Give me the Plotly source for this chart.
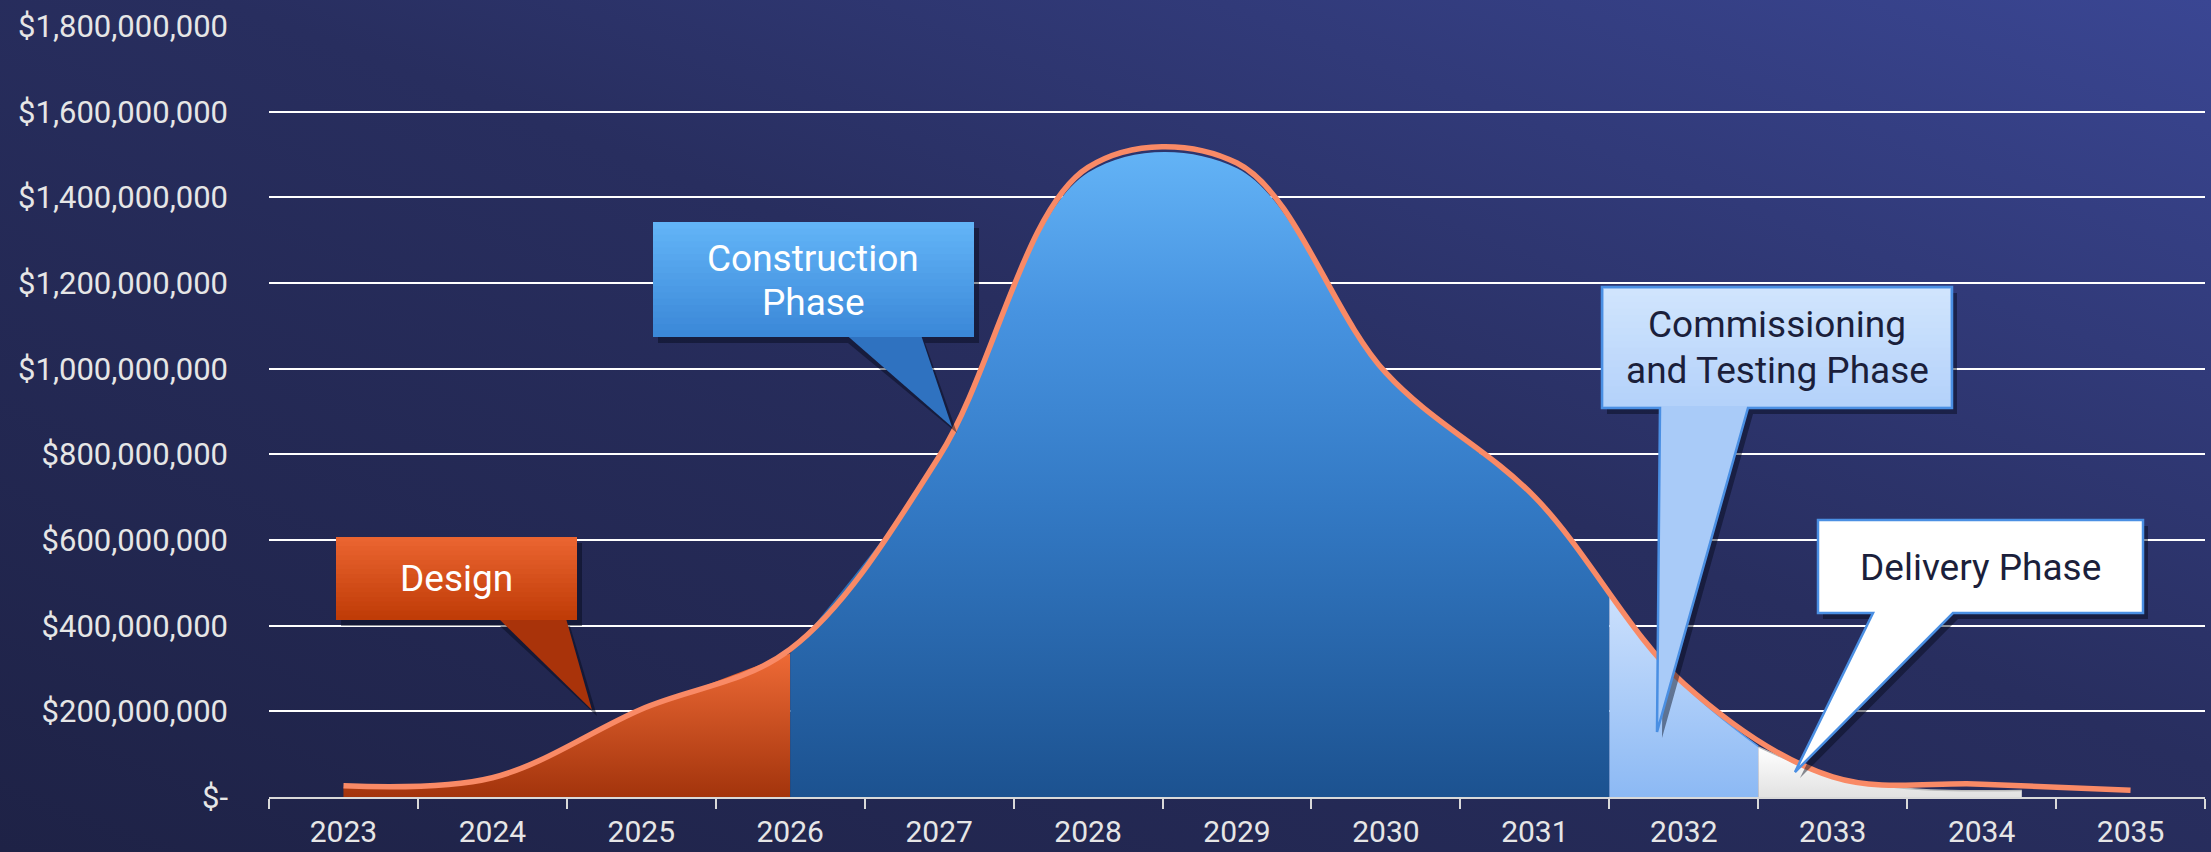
import base64
import plotly.graph_objects as go

# ---------------- data ----------------
YEARS = list(range(2023, 2036))
SPEND = [26e6, 45e6, 205e6, 345e6, 795e6, 1470e6, 1480e6, 990e6, 700e6, 265e6, 47e6, 30e6, 16e6]

DESIGN_X = [2023, 2024, 2025, 2026]
DESIGN_Y = [22e6, 42e6, 200e6, 335e6]

CONSTR_X = [2026, 2027, 2028, 2029, 2030, 2031, 2031.5]
CONSTR_Y = [335e6, 788e6, 1458e6, 1468e6, 985e6, 695e6, 478e6]

COMM_X = [2031.5, 2032, 2032.5]
COMM_Y = [478e6, 262e6, 118e6]

DELIV_X = [2032.5, 2033, 2033.5, 2034.27]
DELIV_Y = [117e6, 48e6, 20e6, 15e6]

Y_TICKS = [i * 2e8 for i in range(10)]
Y_LABELS = ["$-" if v == 0 else "${:,.0f}".format(v) for v in Y_TICKS]
X_LABELS = [str(y) for y in YEARS]

# ---------------- geometry helpers (pixel -> paper) ----------------
W, H = 2211, 852
L, R, T, B = 269, 6, 26, 55
PW, PH = W - L - R, H - T - B
BOTTOM = H - B


def P(px, py):
    return (px - L) / PW, (BOTTOM - py) / PH


def path(points):
    s = []
    for i, (px, py) in enumerate(points):
        x, y = P(px, py)
        s.append(("M" if i == 0 else "L") + f"{x:.5f},{y:.5f}")
    return " ".join(s) + " Z"


def mix(c1, c2, t):
    a = [int(c1[i:i + 2], 16) for i in (1, 3, 5)]
    b = [int(c2[i:i + 2], 16) for i in (1, 3, 5)]
    return "rgb(%d,%d,%d)" % tuple(round(a[k] + (b[k] - a[k]) * t) for k in range(3))


def grad_rect(x0, y0, x1, y1, ctop, cbot, n=18):
    out = []
    h = (y1 - y0) / n
    for i in range(n):
        ya = y0 + i * h
        yb = ya + h + 0.8 if i < n - 1 else y1
        xa, yA = P(x0, ya)
        xb, yB = P(x1, yb)
        out.append(dict(type="rect", xref="paper", yref="paper", x0=xa, x1=xb, y0=yB, y1=yA,
                        fillcolor=mix(ctop, cbot, i / (n - 1)), line=dict(width=0), layer="above"))
    return out


def outline(box, tail):
    x0, y0, x1, y1 = box
    (tl, tr, tip) = tail
    return [(x0, y0), (x1, y0), (x1, y1), (tr, y1), tip, (tl, y1), (x0, y1)]


def shadow(pts, dx=5, dy=6):
    return dict(type="path", xref="paper", yref="paper",
                path=path([(x + dx, y + dy) for x, y in pts]),
                fillcolor="rgba(5,8,25,0.45)", line=dict(width=0), layer="above")


shapes = []
annotations = []
FONT = "Roboto, 'Open Sans', Arial, sans-serif"

# Design callout
d_box = (336, 537, 577, 620)
d_tail = (495, 565, (592, 710))
d_pts = outline(d_box, d_tail)
shapes.append(shadow(d_pts))
shapes.append(dict(type="path", xref="paper", yref="paper",
                   path=path([(d_tail[0], 615), d_tail[2], (d_tail[1], 615)]),
                   fillcolor="#a9330a", line=dict(width=0), layer="above"))
shapes += grad_rect(*d_box, "#ea6430", "#c03c07")

# Construction callout
c_box = (653, 222, 974, 337)
c_tail = (843, 920, (952, 427))
c_pts = outline(c_box, c_tail)
shapes.append(shadow(c_pts))
shapes.append(dict(type="path", xref="paper", yref="paper",
                   path=path([(c_tail[0], 332), c_tail[2], (c_tail[1], 332)]),
                   fillcolor="#2f72c0", line=dict(width=0), layer="above"))
shapes += grad_rect(*c_box, "#62b4f7", "#3b88d8")

# Commissioning callout
m_box = (1602, 287, 1952, 408)
m_tail = (1660, 1748, (1657, 732))
m_pts = outline(m_box, m_tail)
shapes.append(shadow(m_pts))
shapes.append(dict(type="path", xref="paper", yref="paper", path=path(m_pts),
                   fillcolor="#a9cbf8", line=dict(color="#4a8fe3", width=2.5), layer="above"))
shapes += grad_rect(m_box[0] + 2, m_box[1] + 2, m_box[2] - 2, m_box[3] - 2, "#d0e4fd", "#b4d2fa")

# Delivery callout
v_box = (1818, 520, 2143, 613)
v_tail = (1873, 1953, (1795, 772))
v_pts = outline(v_box, v_tail)
shapes.append(shadow(v_pts))
shapes.append(dict(type="path", xref="paper", yref="paper", path=path(v_pts),
                   fillcolor="#ffffff", line=dict(color="#4a8fe3", width=2.5), layer="above"))


def label(text, px, py, color):
    x, y = P(px, py)
    annotations.append(dict(text=text, x=x, y=y, xref="paper", yref="paper", showarrow=False,
                            xanchor="center", yanchor="middle",
                            font=dict(family=FONT, size=37, color=color)))


label("Design", 456, 578, "#ffffff")
label("Construction", 813, 258, "#ffffff")
label("Phase", 813, 303, "#ffffff")
label("Commissioning", 1777, 325, "#1b1f3b")
label("and Testing Phase", 1777, 370, "#1b1f3b")
label("Delivery Phase", 1980, 567, "#1b1f3b")

# ---------------- background ----------------
svg = (f'<svg xmlns="http://www.w3.org/2000/svg" width="{W}" height="{H}" viewBox="0 0 {W} {H}" '
       f'preserveAspectRatio="none"><defs><linearGradient id="g" x1="0" y1="1" x2="1" y2="0">'
       f'<stop offset="0" stop-color="#1e2246"/><stop offset="0.55" stop-color="#282e5f"/>'
       f'<stop offset="1" stop-color="#3a4693"/></linearGradient></defs>'
       f'<rect width="{W}" height="{H}" fill="url(#g)"/></svg>')
bg_src = "data:image/svg+xml;base64," + base64.b64encode(svg.encode()).decode()

# ---------------- traces ----------------
fig = go.Figure()

fig.add_trace(go.Scatter(
    x=DESIGN_X, y=DESIGN_Y, mode="lines", line=dict(shape="spline", width=0, color="#c8470f"),
    fill="tozeroy",
    fillgradient=dict(type="vertical", colorscale=[[0, "#a3340c"], [1, "#ee6a36"]]),
    hoverinfo="skip", name="Design"))

fig.add_trace(go.Scatter(
    x=CONSTR_X, y=CONSTR_Y, mode="lines", line=dict(shape="spline", width=0, color="#3a84d0"),
    fill="tozeroy",
    fillgradient=dict(type="vertical",
                      colorscale=[[0, "#1c5290"], [0.45, "#3379c4"], [0.75, "#4793e0"], [1, "#63b3f6"]]),
    hoverinfo="skip", name="Construction"))

fig.add_trace(go.Scatter(
    x=COMM_X, y=COMM_Y, mode="lines", line=dict(shape="spline", width=1.5, color="#5b9bea"),
    fill="tozeroy",
    fillgradient=dict(type="vertical", colorscale=[[0, "#8cb9f4"], [1, "#cde1fd"]]),
    hoverinfo="skip", name="Commissioning"))

fig.add_trace(go.Scatter(
    x=DELIV_X, y=DELIV_Y, mode="lines", line=dict(shape="spline", width=1.5, color="#bdbdbd"),
    fill="tozeroy",
    fillgradient=dict(type="vertical", colorscale=[[0, "#e2e2e2"], [1, "#ffffff"]]),
    hoverinfo="skip", name="Delivery"))

fig.add_trace(go.Scatter(
    x=YEARS, y=SPEND, mode="lines", line=dict(shape="spline", width=5.5, color="#f98a66"),
    hoverinfo="skip", name="Spend"))

fig.update_layout(
    width=W, height=H,
    margin=dict(l=L, r=R, t=T, b=B, autoexpand=False),
    paper_bgcolor="#262b5a",
    plot_bgcolor="rgba(0,0,0,0)",
    showlegend=False,
    font=dict(family=FONT, color="#e6e6e6", size=30),
    images=[dict(source=bg_src, xref="paper", yref="paper", x=-L / PW, y=1 + T / PH,
                 sizex=W / PW, sizey=H / PH, sizing="stretch", xanchor="left", yanchor="top",
                 layer="below")],
    shapes=shapes,
    annotations=annotations,
    xaxis=dict(range=[YEARS[0] - 0.5, YEARS[-1] + 0.5], tickmode="array", tickvals=YEARS,
               ticktext=X_LABELS, ticks="", showgrid=False, zeroline=False, automargin=False,
               showline=True, linecolor="#d9d9d9", linewidth=2,
               tickfont=dict(size=30, color="#e6e6e6"), ticklabelstandoff=7,
               minor=dict(tick0=YEARS[0] - 0.5, dtick=1, ticks="outside", ticklen=10,
                          tickwidth=2, tickcolor="#d9d9d9", showgrid=False)),
    yaxis=dict(range=[0, 1.8e9], tickmode="array", tickvals=Y_TICKS, ticktext=Y_LABELS,
               showgrid=True, gridcolor="#ffffff", gridwidth=2, zeroline=False, ticks="",
               automargin=False,
               tickfont=dict(size=31, color="#e6e6e6"), ticklabelstandoff=40),
)

fig.write_html("out.html", config={"displayModeBar": False},
               post_script="document.body.style.margin='0';document.body.style.overflow='hidden';")
